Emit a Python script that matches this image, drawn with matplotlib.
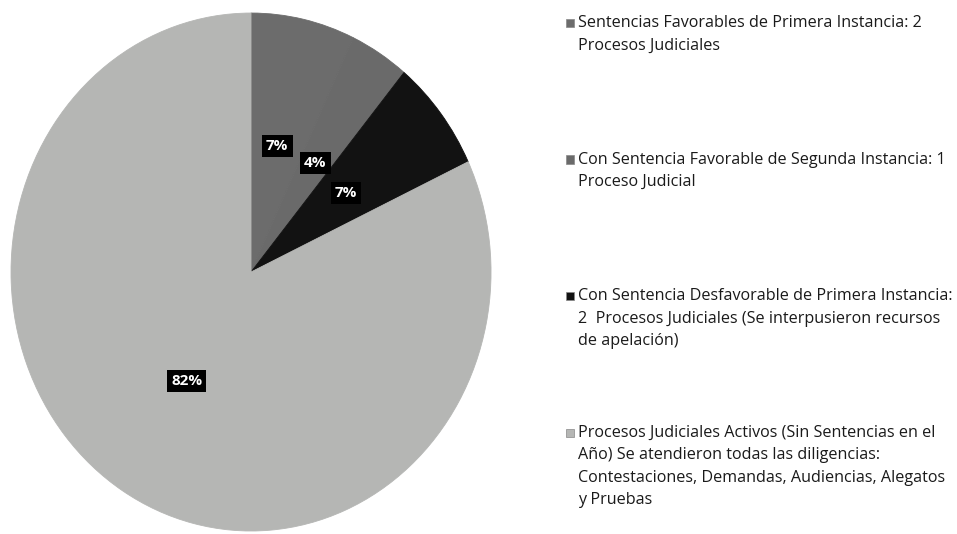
import matplotlib.pyplot as plt
from matplotlib.patches import Rectangle

# data (porcentajes tal como aparecen en el grafico)
labels = [
    "Sentencias Favorables de Primera Instancia: 2\nProcesos Judiciales",
    "Con Sentencia Favorable de Segunda Instancia: 1\nProceso Judicial",
    "Con Sentencia Desfavorable de Primera Instancia:\n2  Procesos Judiciales (Se interpusieron recursos\nde apelación)",
    "Procesos Judiciales Activos (Sin Sentencias en el\nAño) Se atendieron todas las diligencias:\nContestaciones, Demandas, Audiencias, Alegatos\ny Pruebas",
]
values = [7, 4, 7, 82]
colors = ["#6c6c6c", "#6a6a6a", "#121212", "#b5b6b4"]

plt.rcParams['font.family'] = ['Open Sans', 'DejaVu Sans']

fig = plt.figure(figsize=(9.57, 5.34), dpi=100)
ax = fig.add_axes([0.0115, 0.0056, 0.5016, 0.970])

wedges, texts, autotexts = ax.pie(values, colors=colors, startangle=90, counterclock=False,
                                  autopct='%d%%', pctdistance=0.5,
                                  textprops=dict(color='white', fontweight='bold', fontsize=11))
for w, c in zip(wedges, colors):
    w.set_edgecolor(c)
    w.set_linewidth(0.6)
for t in autotexts:
    t.set_bbox(dict(facecolor='black', edgecolor='none', pad=3))
ax.set_aspect('auto')
ax.set_xlim(-1, 1)
ax.set_ylim(-1, 1)

# legend drawn by hand so the markers sit on the first line
top = 1 - 23 / 534
step = 136.5 / 534
for i, (lab, c) in enumerate(zip(labels, colors)):
    y = top - i * step
    fig.patches.append(Rectangle((566 / 957, y - 4 / 534), 8 / 957, 8 / 534,
                                 transform=fig.transFigure, facecolor=c,
                                 edgecolor='#888888', linewidth=0.5))
    fig.text(578 / 957, y + 8 / 534, lab, fontsize=11.6, va='top', ha='left',
             color='#1a1a1a', linespacing=1.55)

plt.savefig("out.png", dpi=100)
